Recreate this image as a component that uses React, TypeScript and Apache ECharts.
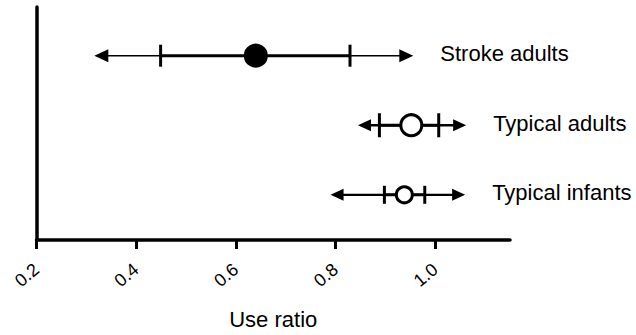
import React, { useEffect, useRef } from "react";
import * as echarts from "echarts";

const groups = ["Stroke adults", "Typical adults", "Typical infants"];
const rowPos = [3, 2, 1];
const means = [0.64, 0.952, 0.938];
const ciLow = [0.449, 0.888, 0.898];
const ciHigh = [0.829, 1.007, 0.979];
const rangeLow = [0.316, 0.845, 0.79];
const rangeHigh = [0.956, 1.062, 1.06];
const xTicks = [0.2, 0.4, 0.6, 0.8, 1.0];

const rowStyles = [
  { thin: 1.5, thick: 3, tickH: 22, r: 10.5, filled: true, arrowL: 14, arrowH: 6.5 },
  { thin: 2.5, thick: 3, tickH: 24, r: 10.5, filled: false, arrowL: 13, arrowH: 6 },
  { thin: 2.2, thick: 3, tickH: 18, r: 8, filled: false, arrowL: 13, arrowH: 6 },
];

const FONT = "'Liberation Sans', Arial, sans-serif";

export default function App() {
  const ref = useRef<HTMLDivElement>(null);
  useEffect(() => {
    if (!ref.current) return;
    const chart = echarts.init(ref.current, undefined, { renderer: "svg" });
    const data = groups.map((g, i) => [i, rowPos[i], rangeLow[i], ciLow[i], means[i], ciHigh[i], rangeHigh[i]]);
    chart.setOption({
      animation: false,
      grid: { left: 36.5, right: 126, top: 7, bottom: 91, containLabel: false },
      xAxis: {
        type: "value",
        min: 0.2,
        max: 1.15,
        splitLine: { show: false },
        axisLine: { show: true, lineStyle: { color: "#000", width: 3.5 } },
        axisTick: { show: true, length: 9, lineStyle: { color: "#000", width: 3 }, customValues: xTicks },
        axisLabel: {
          rotate: 40,
          fontSize: 18,
          fontFamily: FONT,
          color: "#000",
          margin: 27,
          customValues: xTicks,
          formatter: (v: number) => v.toFixed(1),
        },
        name: "Use ratio",
        nameLocation: "middle",
        nameGap: 68,
        nameTextStyle: { fontSize: 22, fontFamily: FONT, color: "#000" },
      },
      yAxis: {
        type: "value",
        min: 0.35,
        max: 3.7,
        splitLine: { show: false },
        axisLine: { show: true, lineStyle: { color: "#000", width: 3.5 } },
        axisTick: { show: false },
        axisLabel: { show: false },
      },
      series: [
        {
          type: "custom",
          data,
          encode: { x: [2, 3, 4, 5, 6], y: 1 },
          renderItem: (params: any, api: any) => {
            const idx = api.value(0);
            const st = rowStyles[idx];
            const y = api.value(1);
            const pL = api.coord([api.value(2), y]);
            const cL = api.coord([api.value(3), y]);
            const m = api.coord([api.value(4), y]);
            const cH = api.coord([api.value(5), y]);
            const pH = api.coord([api.value(6), y]);
            const cy = m[1];
            const children: any[] = [];
            children.push({
              type: "line",
              shape: { x1: pL[0] + st.arrowL - 1, y1: cy, x2: pH[0] - st.arrowL + 1, y2: cy },
              style: { stroke: "#000", lineWidth: st.thin },
            });
            children.push({
              type: "line",
              shape: { x1: cL[0], y1: cy, x2: cH[0], y2: cy },
              style: { stroke: "#000", lineWidth: st.thick },
            });
            children.push({
              type: "polygon",
              shape: { points: [[pL[0], cy], [pL[0] + st.arrowL, cy - st.arrowH], [pL[0] + st.arrowL, cy + st.arrowH]] },
              style: { fill: "#000" },
            });
            children.push({
              type: "polygon",
              shape: { points: [[pH[0], cy], [pH[0] - st.arrowL, cy - st.arrowH], [pH[0] - st.arrowL, cy + st.arrowH]] },
              style: { fill: "#000" },
            });
            [cL, cH].forEach((p) => {
              children.push({
                type: "line",
                shape: { x1: p[0], y1: cy - st.tickH / 2, x2: p[0], y2: cy + st.tickH / 2 },
                style: { stroke: "#000", lineWidth: 3 },
              });
            });
            children.push({
              type: "circle",
              shape: { cx: m[0], cy, r: st.r },
              style: { fill: st.filled ? "#000" : "#fff", stroke: "#000", lineWidth: 3 },
            });
            children.push({
              type: "text",
              x: pH[0] + 27,
              y: cy - 2,
              style: {
                text: groups[idx],
                fontSize: 22,
                fontFamily: FONT,
                fill: "#000",
                align: "left",
                verticalAlign: "middle",
              },
            });
            return { type: "group", children };
          },
        },
      ],
    });
    return () => chart.dispose();
  }, []);
  return (
    <div
      ref={ref}
      style={{ position: "fixed", left: 0, top: 0, width: 636, height: 335, background: "#fff" }}
    />
  );
}
